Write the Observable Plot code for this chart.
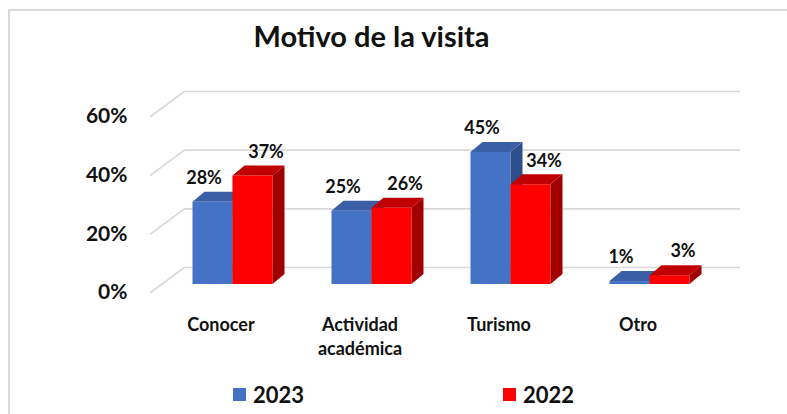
<!DOCTYPE html>
<html>
<head>
<meta charset="utf-8">
<script src="https://cdn.jsdelivr.net/npm/d3@7"></script>
<script src="https://cdn.jsdelivr.net/npm/@observablehq/plot@0.6"></script>
<style>
  html, body { margin: 0; padding: 0; background: #fff; }
  body { width: 787px; height: 414px; position: relative; overflow: hidden; font-family: Lato, "Open Sans", sans-serif; color: #111; }
  #frame { position: absolute; left: 8px; top: 9px; width: 800px; height: 420px; border-left: 2px solid #d9d9d9; border-top: 2px solid #d9d9d9; }
  #title { position: absolute; left: 0; top: 18px; width: 743px; text-align: center; font-size: 29px; font-weight: 700; line-height: 36px; }
  #chart { position: absolute; left: 0; top: 0; }
  #legend { position: absolute; top: 380px; left: 0; width: 787px; height: 28px; font-size: 22px; font-weight: 700; }
  .item { position: absolute; top: 0; display: flex; align-items: center; height: 28px; }
  .swatch { width: 13px; height: 13px; margin-right: 7px; }
</style>
</head>
<body>
<div id="frame"></div>
<div id="title">Motivo de la visita</div>
<div id="chart"></div>
<div id="legend"></div>
<script>
// ---- data ----
const categories = ["Conocer", "Actividad académica", "Turismo", "Otro"];
const seriesNames = ["2023", "2022"];
const values2023 = [28, 25, 45, 1];
const values2022 = [37, 26, 34, 3];
const yTicks = [0, 20, 40, 60];

// ---- styles ----
const palette = {
  "2023": {front: "#4472C4", top: "#3A5FA6", side: "#2F4F8C"},
  "2022": {front: "#FF0000", top: "#C00000", side: "#A00000"}
};
const labelDx = {"2023": -15, "2022": 7};
const DEPTH_X = 12, DEPTH_Y = 10;   // 3D bar depth (px)
const GROUP = 80 / 139;             // fraction of band used by a bar pair
const WALL_X = 35, WALL_Y = 26;     // floor depth (px)

const rows = [];
categories.forEach((c, i) => {
  rows.push({category: c, series: "2023", value: values2023[i]});
  rows.push({category: c, series: "2022", value: values2022[i]});
});

// 3D bars drawn with Plot's own x (band) and y (linear) scales
function bars3d(index, scales, values, dimensions) {
  const x = scales.x, y = scales.y;
  const step = x(categories[1]) - x(categories[0]);
  const g = d3.create("svg:g");
  const barW = step * GROUP / 2;
  const y0 = y(0);
  for (const s of seriesNames) {
    const k = seriesNames.indexOf(s);
    for (const r of rows.filter(d => d.series === s)) {
      const x0 = x(r.category) + (step - step * GROUP) / 2 + k * barW;
      const x1 = x0 + barW;
      const yt = y(r.value);
      const col = palette[s];
      g.append("rect").attr("x", x0).attr("y", yt).attr("width", barW).attr("height", y0 - yt).attr("fill", col.front);
      g.append("polygon").attr("points", [[x0, yt], [x1, yt], [x1 + DEPTH_X, yt - DEPTH_Y], [x0 + DEPTH_X, yt - DEPTH_Y]].map(p => p.join(",")).join(" ")).attr("fill", col.top);
      g.append("polygon").attr("points", [[x1, yt], [x1 + DEPTH_X, yt - DEPTH_Y], [x1 + DEPTH_X, y0 - DEPTH_Y], [x1, y0]].map(p => p.join(",")).join(" ")).attr("fill", col.side);
    }
  }
  return g.node();
}

function wallSlants(index, scales, values, dimensions) {
  const y = scales.y;
  const g = d3.create("svg:g");
  const xb = dimensions.marginLeft;
  for (const t of yTicks) {
    const yb = y(t) - 17;
    g.append("line").attr("x1", xb - WALL_X).attr("y1", yb + WALL_Y).attr("x2", xb).attr("y2", yb)
      .attr("stroke", "#d9d9d9").attr("stroke-width", 1.6);
  }
  return g.node();
}

const chart = Plot.plot({
  width: 787,
  height: 360,
  marginLeft: 185,
  marginRight: 47,
  marginTop: 80,
  marginBottom: 67,
  style: {fontFamily: "Lato, 'Open Sans', sans-serif", color: "#111", background: "transparent", overflow: "visible"},
  x: {type: "band", domain: categories, range: [162.5, 718.5], padding: 0},
  y: {domain: [0, 60], range: [284, 108]},
  marks: [
    Plot.ruleY(yTicks, {y: d => d, dy: -17, stroke: "#d9d9d9", strokeWidth: 1.6}),
    wallSlants,
    bars3d,
    ...seriesNames.map(s => Plot.text(rows.filter(d => d.series === s), {
      x: "category", y: "value", text: d => d.value + "%",
      dx: (seriesNames.indexOf(s) === 0 ? -20 : 20) + DEPTH_X / 2 + labelDx[s], dy: -DEPTH_Y - 14,
      fontSize: 18, fontWeight: 700, fill: "#111"
    })),
    Plot.axisY({ticks: yTicks, tickFormat: d => d + "%", tickSize: 0, tickPadding: 58, dy: 8, fontSize: 21, fontWeight: 700, label: null}),
    Plot.axisX({tickSize: 0, tickPadding: 21, dx: -12, fontSize: 18, fontWeight: 700, label: null, lineHeight: 1.3,
      tickFormat: d => d.replace(" ", "\n")})
  ]
});
document.getElementById("chart").appendChild(chart);

// legend
const legend = document.getElementById("legend");
const legendLeft = {"2023": 233, "2022": 503};
for (const s of seriesNames) {
  const it = document.createElement("div");
  it.className = "item";
  it.style.left = legendLeft[s] + "px";
  it.innerHTML = `<span class="swatch" style="background:${palette[s].front}"></span><span>${s}</span>`;
  legend.appendChild(it);
}
</script>
</body>
</html>
